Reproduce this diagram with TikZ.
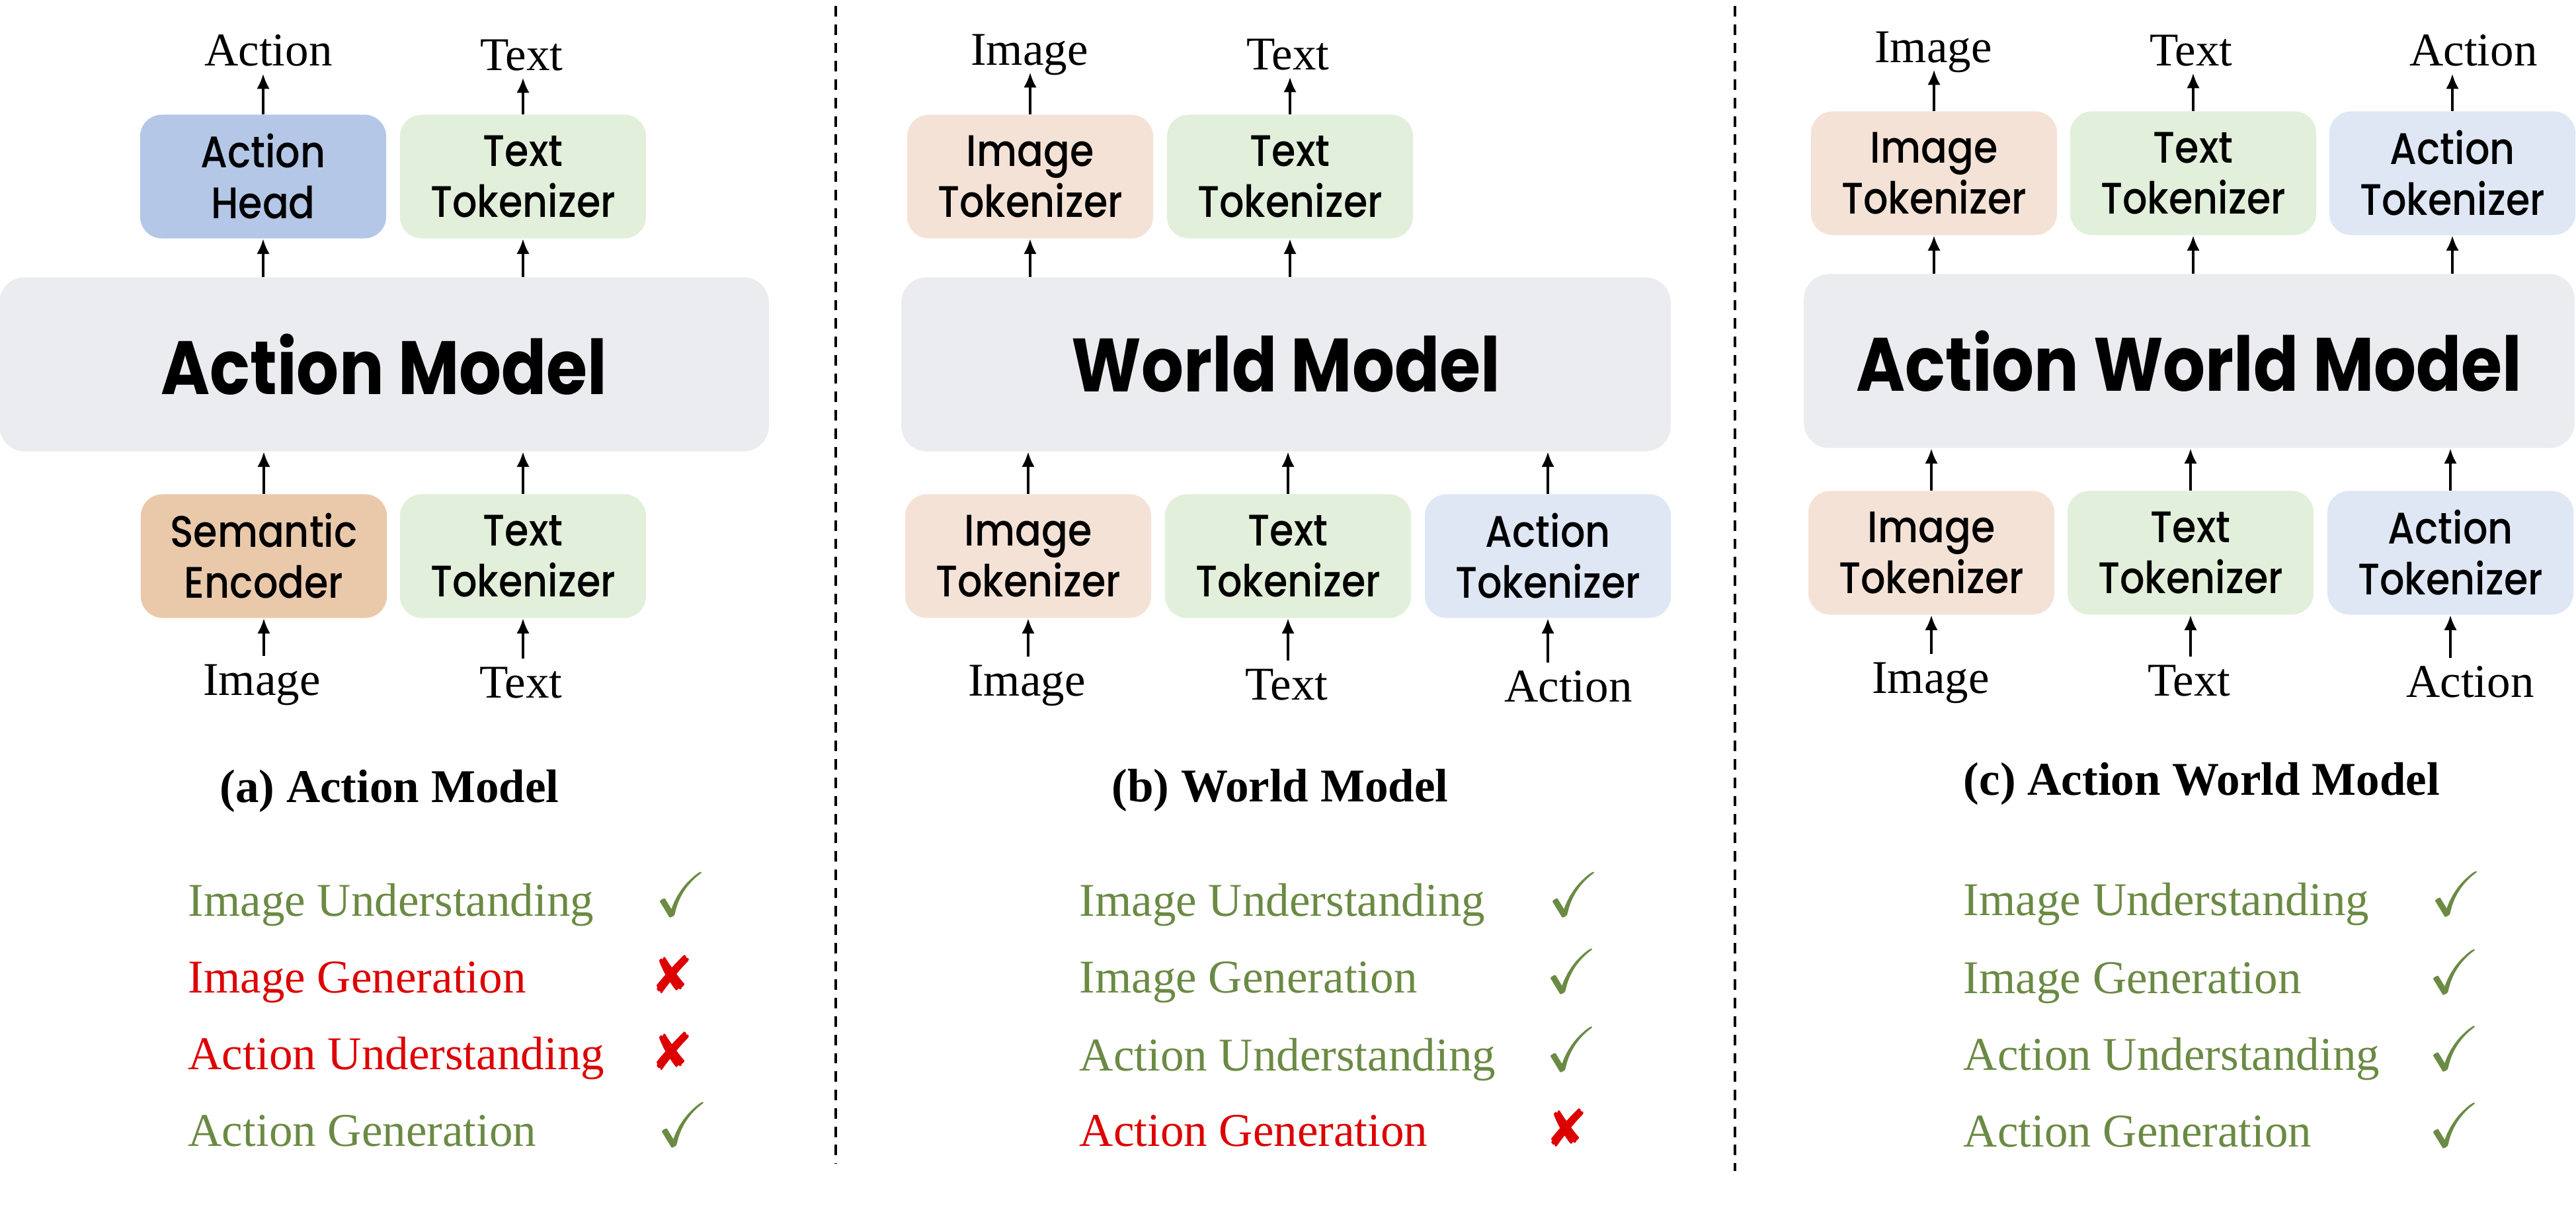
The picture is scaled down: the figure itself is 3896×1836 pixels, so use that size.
\documentclass[tikz,border=0pt]{standalone}
\usepackage{fontspec}
\usepackage{amssymb}
\usepackage{pifont}
\usetikzlibrary{arrows.meta}
\setmainfont{Liberation Serif}
\IfFontExistsTF{Poppins Medium}
  {\newfontfamily\blockfont[FakeStretch=0.88]{Poppins Medium}}
  {\newfontfamily\blockfont[FakeStretch=0.88]{Poppins}}
\newfontfamily\titlefont[FakeStretch=0.88]{Poppins}
\definecolor{headblue}{HTML}{B4C7E7}
\definecolor{tokgreen}{HTML}{E2EFDA}
\definecolor{encorange}{HTML}{EAC9AB}
\definecolor{imgorange}{HTML}{F5E2D6}
\definecolor{actblue}{HTML}{DFE7F5}
\definecolor{coregray}{HTML}{EBECF0}
\definecolor{okgreen}{HTML}{6B8A44}
\definecolor{nored}{HTML}{DD0000}
\tikzset{
  blk/.style={rounded corners=0.33cm, minimum width=3.72cm, minimum height=1.87cm, align=center, inner sep=0pt,
    font=\blockfont\fontsize{19}{21.9}\selectfont},
  core/.style={fill=coregray, rounded corners=0.38cm, minimum width=11.63cm, minimum height=2.63cm, inner sep=0pt,
    font=\titlefont\bfseries\fontsize{32.5}{36}\selectfont},
  lbl/.style={anchor=base, inner xsep=0pt, inner ysep=3.1pt, text height=13.4pt, text depth=0pt,
    font=\fontsize{20.2}{24}\selectfont},
  capt/.style={anchor=base, font=\bfseries\fontsize{20.2}{24}\selectfont},
  yes/.style={anchor=base west, text=okgreen, inner sep=0pt, font=\fontsize{20.2}{24}\selectfont},
  no/.style={anchor=base west, text=nored, inner sep=0pt, font=\fontsize{20.2}{24}\selectfont},
  tick/.style={anchor=base west, text=okgreen, inner sep=0pt, font=\fontsize{27}{30}\selectfont},
  cross/.style={anchor=base west, text=nored, inner sep=0pt, font=\fontsize{23}{26}\selectfont},
  arr/.style={-{Latex[length=6.5pt,width=5.6pt]}, line width=1.1pt},
  sep/.style={line width=1.1pt, dash pattern=on 4.5pt off 3.4pt}
}
\begin{document}
\begin{tikzpicture}[x=0.01cm, y=-0.01cm]
  \useasboundingbox (0,0) rectangle (3896,1836);
  % (a) action model
  \node[lbl] (a_outA) at (406,100) {Action};
  \node[lbl] (a_outT) at (789,106) {Text};
  \node[blk, fill=headblue] (a_head) at (398,267) {Action\\Head};
  \node[blk, fill=tokgreen] (a_ttop) at (791,267) {Text\\Tokenizer};
  \node[core] (a_core) at (581,551) {Action Model};
  \node[blk, fill=encorange] (a_enc) at (399,841) {Semantic\\Encoder};
  \node[blk, fill=tokgreen] (a_tbot) at (791,841) {Text\\Tokenizer};
  \node[lbl] (a_inI) at (396,1051) {Image};
  \node[lbl] (a_inT) at (788,1055) {Text};
  \draw[arr] (a_head.north) -- (a_head.north |- a_outA.south);
  \draw[arr] (a_ttop.north) -- (a_ttop.north |- a_outT.south);
  \draw[arr] (a_core.north -| a_head) -- (a_head.south);
  \draw[arr] (a_core.north -| a_ttop) -- (a_ttop.south);
  \draw[arr] (a_enc.north) -- (a_core.south -| a_enc);
  \draw[arr] (a_tbot.north) -- (a_core.south -| a_tbot);
  \draw[arr] (a_inI.north -| a_enc) -- (a_enc.south);
  \draw[arr] (a_inT.north -| a_tbot) -- (a_tbot.south);
  \node[capt] (a_cap) at (589,1213) {(a) Action Model};
  \node[yes] (a_l1) at (284,1385) {Image Understanding};
  \node[no] (a_l2) at (284,1501) {Image Generation};
  \node[no] (a_l3) at (284,1617) {Action Understanding};
  \node[yes] (a_l4) at (284,1733) {Action Generation};
  \node[tick] (a_m1) at (990,1385) {$\checkmark$};
  \node[cross] (a_m2) at (990,1501) {\ding{56}};
  \node[cross] (a_m3) at (990,1617) {\ding{56}};
  \node[tick] (a_m4) at (993,1733) {$\checkmark$};
  \draw[sep] (1264,9) -- (1264,1760);
  % (b) world model
  \node[lbl] (b_outI) at (1557,98) {Image};
  \node[lbl] (b_outT) at (1948,105) {Text};
  \node[blk, fill=imgorange] (b_itop) at (1558,267) {Image\\Tokenizer};
  \node[blk, fill=tokgreen] (b_ttop) at (1951,267) {Text\\Tokenizer};
  \node[core] (b_core) at (1945,551) {World Model};
  \node[blk, fill=imgorange] (b_ibot) at (1555,841) {Image\\Tokenizer};
  \node[blk, fill=tokgreen] (b_tbot) at (1948,841) {Text\\Tokenizer};
  \node[blk, fill=actblue] (b_abot) at (2341,841) {Action\\Tokenizer};
  \node[lbl] (b_inI) at (1553,1052) {Image};
  \node[lbl] (b_inT) at (1946,1058) {Text};
  \node[lbl] (b_inA) at (2372,1061) {Action};
  \draw[arr] (b_itop.north) -- (b_itop.north |- b_outI.south);
  \draw[arr] (b_ttop.north) -- (b_ttop.north |- b_outT.south);
  \draw[arr] (b_core.north -| b_itop) -- (b_itop.south);
  \draw[arr] (b_core.north -| b_ttop) -- (b_ttop.south);
  \draw[arr] (b_ibot.north) -- (b_core.south -| b_ibot);
  \draw[arr] (b_tbot.north) -- (b_core.south -| b_tbot);
  \draw[arr] (b_abot.north) -- (b_core.south -| b_abot);
  \draw[arr] (b_inI.north -| b_ibot) -- (b_ibot.south);
  \draw[arr] (b_inT.north -| b_tbot) -- (b_tbot.south);
  \draw[arr] (b_inA.north -| b_abot) -- (b_abot.south);
  \node[capt] (b_cap) at (1936,1212) {(b) World Model};
  \node[yes] (b_l1) at (1632,1385) {Image Understanding};
  \node[yes] (b_l2) at (1632,1501) {Image Generation};
  \node[yes] (b_l3) at (1632,1619) {Action Understanding};
  \node[no] (b_l4) at (1632,1733) {Action Generation};
  \node[tick] (b_m1) at (2340,1385) {$\checkmark$};
  \node[tick] (b_m2) at (2337,1501) {$\checkmark$};
  \node[tick] (b_m3) at (2337,1619) {$\checkmark$};
  \node[cross] (b_m4) at (2343,1733) {\ding{56}};
  \draw[sep] (2624,9) -- (2624,1771);
  % (c) action world model
  \node[lbl] (c_outI) at (2924,94) {Image};
  \node[lbl] (c_outT) at (3314,99) {Text};
  \node[lbl] (c_outA) at (3741,100) {Action};
  \node[blk, fill=imgorange] (c_itop) at (2925,262) {Image\\Tokenizer};
  \node[blk, fill=tokgreen] (c_ttop) at (3317,262) {Text\\Tokenizer};
  \node[blk, fill=actblue] (c_atop) at (3709,262) {Action\\Tokenizer};
  \node[core, minimum width=11.65cm] (c_core) at (3311,546) {Action World Model};
  \node[blk, fill=imgorange] (c_ibot) at (2921,836) {Image\\Tokenizer};
  \node[blk, fill=tokgreen] (c_tbot) at (3313,836) {Text\\Tokenizer};
  \node[blk, fill=actblue] (c_abot) at (3706,836) {Action\\Tokenizer};
  \node[lbl] (c_inI) at (2920,1048) {Image};
  \node[lbl] (c_inT) at (3311,1052) {Text};
  \node[lbl] (c_inA) at (3736,1054) {Action};
  \draw[arr] (c_itop.north) -- (c_itop.north |- c_outI.south);
  \draw[arr] (c_ttop.north) -- (c_ttop.north |- c_outT.south);
  \draw[arr] (c_atop.north) -- (c_atop.north |- c_outA.south);
  \draw[arr] (c_core.north -| c_itop) -- (c_itop.south);
  \draw[arr] (c_core.north -| c_ttop) -- (c_ttop.south);
  \draw[arr] (c_core.north -| c_atop) -- (c_atop.south);
  \draw[arr] (c_ibot.north) -- (c_core.south -| c_ibot);
  \draw[arr] (c_tbot.north) -- (c_core.south -| c_tbot);
  \draw[arr] (c_abot.north) -- (c_core.south -| c_abot);
  \draw[arr] (c_inI.north -| c_ibot) -- (c_ibot.south);
  \draw[arr] (c_inT.north -| c_tbot) -- (c_tbot.south);
  \draw[arr] (c_inA.north -| c_abot) -- (c_abot.south);
  \node[capt] (c_cap) at (3330,1202) {(c) Action World Model};
  \node[yes] (c_l1) at (2969,1384) {Image Understanding};
  \node[yes] (c_l2) at (2969,1502) {Image Generation};
  \node[yes] (c_l3) at (2969,1618) {Action Understanding};
  \node[yes] (c_l4) at (2969,1734) {Action Generation};
  \node[tick] (c_m1) at (3675,1384) {$\checkmark$};
  \node[tick] (c_m2) at (3672,1502) {$\checkmark$};
  \node[tick] (c_m3) at (3672,1618) {$\checkmark$};
  \node[tick] (c_m4) at (3672,1734) {$\checkmark$};
\end{tikzpicture}
\end{document}
